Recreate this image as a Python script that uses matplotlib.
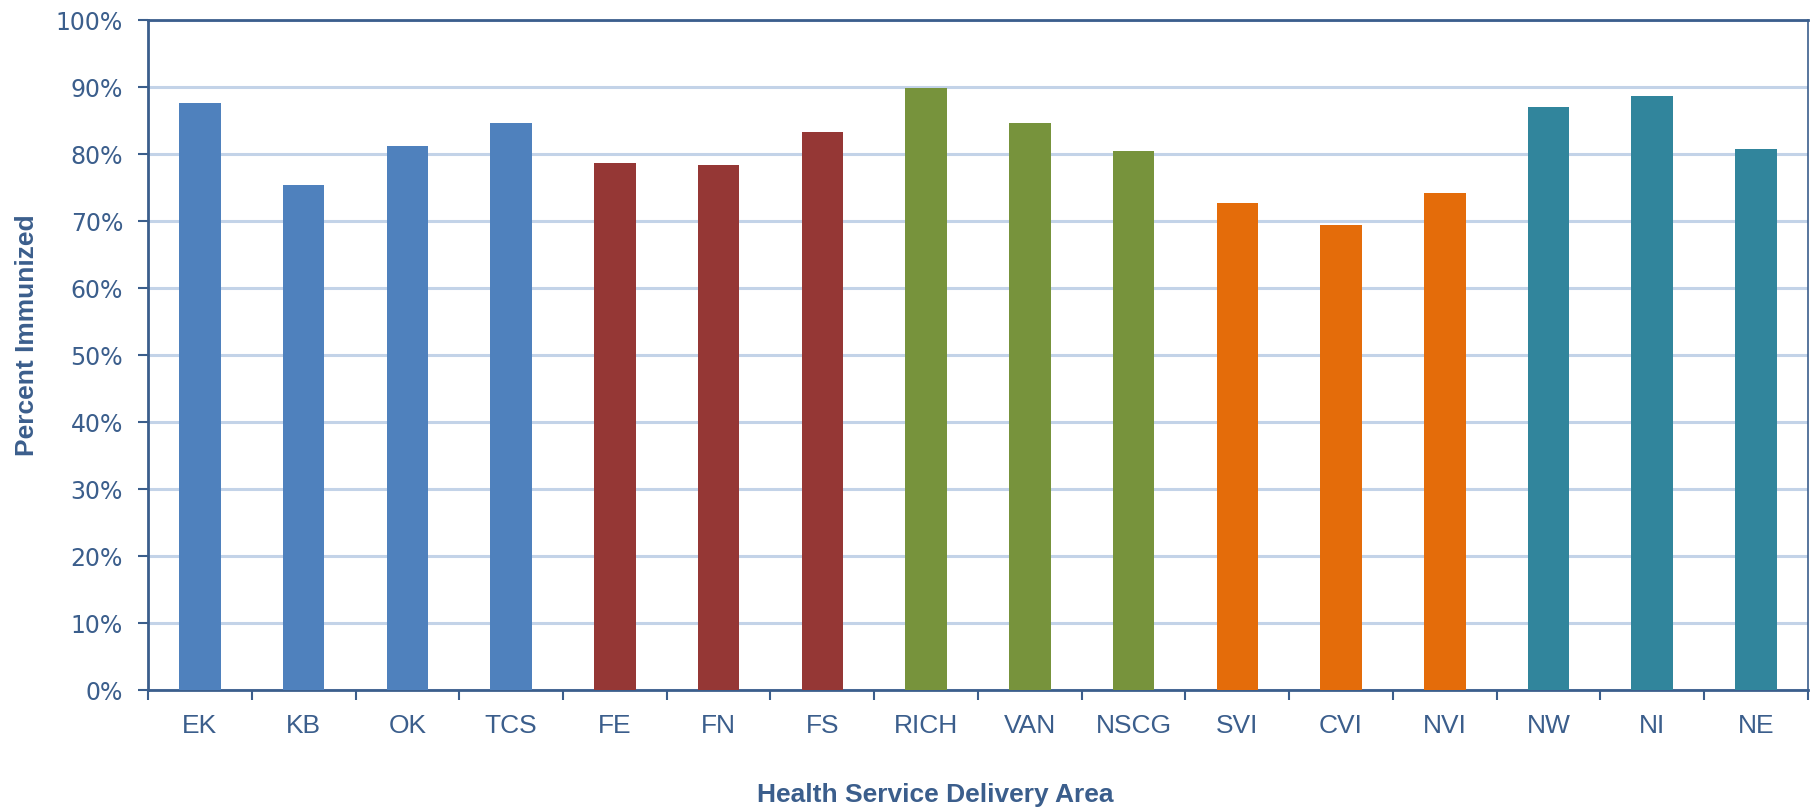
import matplotlib.pyplot as plt
import numpy as np

areas = ['EK', 'KB', 'OK', 'TCS', 'FE', 'FN', 'FS', 'RICH', 'VAN', 'NSCG',
         'SVI', 'CVI', 'NVI', 'NW', 'NI', 'NE']
pct = [87.7, 75.4, 81.2, 84.7, 78.7, 78.4, 83.3, 89.9, 84.6, 80.5,
       72.7, 69.4, 74.2, 87.0, 88.7, 80.8]
groups = ['IH'] * 4 + ['FH'] * 3 + ['VCH'] * 3 + ['VIHA'] * 3 + ['NH'] * 3
group_colors = {'IH': '#4F81BD', 'FH': '#953735', 'VCH': '#77933C',
                'VIHA': '#E46C0A', 'NH': '#31859C'}

txt = '#3B5E8C'
plt.rcParams['font.family'] = ['Liberation Sans', 'DejaVu Sans']

fig = plt.figure(figsize=(18.1, 8.1), dpi=100)
ax = fig.add_axes([0.0818, 0.148, 0.917, 0.827])

x = np.arange(len(areas))
ax.bar(x, pct, width=0.4, color=[group_colors[g] for g in groups], zorder=3)

ax.set_xlim(-0.5, len(areas) - 0.5)
ax.set_ylim(0, 100)
ax.set_yticks(np.arange(0, 101, 10))
ax.set_yticklabels([f'{v}%' for v in range(0, 101, 10)], family='DejaVu Sans',
                   fontsize=17, color=txt)
ax.set_xticks(x)
ax.set_xticklabels(areas, fontsize=19, color=txt)
ax.set_xticks(np.arange(-0.5, len(areas), 1), minor=True)
ax.tick_params(axis='x', which='major', length=0, pad=17)
ax.tick_params(axis='x', which='minor', length=7, width=1.5, color=txt, direction='out')
ax.tick_params(axis='y', length=7, width=1.5, color=txt, pad=11)
ax.yaxis.grid(True, color='#C3D3E8', linewidth=2.2, zorder=0)

for s in ax.spines.values():
    s.set_color(txt)
ax.spines['left'].set_linewidth(2)
ax.spines['bottom'].set_linewidth(2)
ax.spines['top'].set_linewidth(2)
ax.spines['right'].set_linewidth(1.2)

ax.set_ylabel('Percent Immunized', fontsize=19, fontweight='bold', color=txt)
ax.set_xlabel('Health Service Delivery Area', fontsize=19, fontweight='bold', color=txt)
ax.yaxis.set_label_coords(-0.066, 0.53)
ax.xaxis.set_label_coords(0.474, -0.139)

fig.savefig('out.png', dpi=100)
